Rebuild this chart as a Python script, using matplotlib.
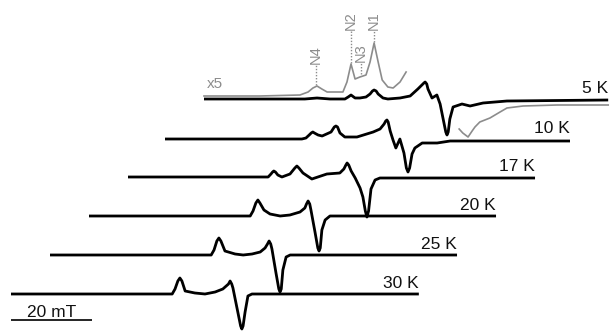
import matplotlib
matplotlib.use("Agg")
import matplotlib.pyplot as plt
import numpy as np

plt.rcParams['font.family'] = ['Liberation Sans', 'DejaVu Sans']

# ---------------- data (field in mT from sweep start, intensity in a.u.) ----------------
temps = [5, 10, 17, 20, 25, 30]

field_5K = [0, 24.9, 27.9, 31.1, 34.8, 35.6, 36.3, 37.3, 38.5, 40.0, 41.0, 41.6, 42.0, 42.5,
            43.0, 44.2, 45.4, 48.4, 50.9, 52.8, 53.8, 54.3, 54.6, 55.0, 55.3, 56.3, 57.5,
            58.3, 59.3, 59.7, 60.0, 60.3, 60.7, 61.5, 63.7, 65.7, 68.9, 74.8, 99.8]
sig_5K = [0, 0, 1, 0, 0, 2, 4, 1, 1, 2, 5, 8, 9, 8, 5, 1, 0, 1, 3, 10, 14, 16, 17, 15, 10,
          1, 4, -5, -25, -33, -36, -33, -20, -8, -5, -7, -4, -2, -1]

field_10K = [0, 33.8, 34.8, 35.6, 36.1, 36.5, 36.9, 37.8, 38.8, 41.0, 41.8, 42.2, 42.6,
             43.2, 44.4, 47.4, 51.4, 53.1, 54.1, 54.5, 54.8, 55.1, 55.6, 56.3, 57.0, 58.0,
             59.0, 59.6, 60.0, 60.4, 61.0, 61.7, 63.5, 67.2, 70.4, 75.3, 100.0]
sig_10K = [0, 0, 1, 4, 6, 7, 6, 4, 3, 7, 12, 13, 12, 6, 2, 2, 7, 10, 15, 18, 19, 17, 8, -1,
           -9, 0, -14, -29, -33, -29, -15, -9, -4, -4, -2, -2, -2]

field_17K = [0, 34.6, 35.3, 35.7, 36.0, 36.4, 37.0, 38.0, 40.0, 41.2, 41.7, 42.2, 43.2,
             45.4, 49.1, 52.3, 53.3, 53.8, 54.1, 54.5, 55.1, 56.1, 57.3, 58.0, 58.6, 59.0,
             59.4, 60.0, 61.0, 62.2, 100.5]
sig_17K = [0, 0, 3, 5, 6, 5, 2, 0, 3, 9, 11, 9, 4, -2, 3, 4, 8, 12, 14, 12, 6, -1, -11,
           -20, -34, -40, -34, -12, -3, -1, -1]

field_20K = [0, 39.8, 40.5, 41.2, 41.7, 42.2, 43.2, 44.7, 47.2, 49.6, 52.1, 53.3, 53.7,
             54.1, 54.5, 54.8, 55.8, 56.5, 56.8, 57.1, 57.5, 58.3, 59.5, 100.5]
sig_20K = [0, 0, 5, 13, 16, 13, 6, 2, 0, 1, 4, 8, 12, 15, 12, 6, -16, -32, -35, -32, -14,
           -4, 0, 0]

field_25K = [0, 39.8, 40.5, 41.2, 41.7, 42.2, 43.2, 45.7, 47.7, 49.9, 51.9, 53.1, 53.7,
             54.1, 54.5, 54.8, 55.8, 56.5, 56.8, 57.1, 57.5, 58.3, 59.3, 100.5]
sig_25K = [0, 0, 5, 14, 17, 14, 4, 1, 0, 1, 3, 7, 11, 14, 11, 6, -18, -34, -37, -34, -15,
           -2, 0, 0]

field_30K = [0, 39.8, 40.5, 41.2, 41.7, 42.2, 43.0, 45.4, 47.9, 50.4, 52.3, 53.7, 54.1,
             54.5, 54.8, 56.0, 56.7, 57.0, 57.3, 57.8, 58.5, 59.5, 100.7]
sig_30K = [0, 0, 5, 13, 16, 13, 3, 1, 0, 2, 5, 10, 13, 10, 6, -18, -32, -35, -32, -18, -2,
           0, 0]

# 5 K spectrum magnified x5 (two visible segments)
field_x5_a = [0, 13.8, 23.7, 25.7, 26.9, 27.9, 29.1, 30.4, 34.3, 35.3, 36.3, 37.3, 38.5,
              40.0, 41.0, 42.0, 43.0, 44.0, 45.4, 46.7, 48.4, 49.9]
sig_x5_a = [3, 3, 4, 7, 11, 13, 10, 7, 7, 17, 35, 20, 22, 24, 37, 56, 37, 19, 12, 11, 17, 27]
field_x5_b = [63.0, 63.9, 65.2, 66.2, 66.9, 68.1, 70.6, 73.1, 74.8, 78.8, 87.2, 99.8]
sig_x5_b = [-30, -34, -38, -32, -28, -23, -19, -13, -9, -7, -6, -6]

# nitrogen-line markers on the x5 trace
n_labels = ['N4', 'N2', 'N3', 'N1']
n_field = [27.7, 36.3, 38.8, 42.0]
n_peak = [13, 35, 24, 56]
n_top = [34, 68, 36, 68]

scale_bar_mT = 20

fields = [field_5K, field_10K, field_17K, field_20K, field_25K, field_30K]
signals = [sig_5K, sig_10K, sig_17K, sig_20K, sig_25K, sig_30K]

# ---------------- layout ----------------
PX_PER_MT = 4.05
W, H = 611, 331
x_start_px = [204, 165, 128, 89, 50, 11]
baseline_px = [99, 139, 177, 216, 255, 294]

fig = plt.figure(figsize=(W / 100, H / 100), dpi=100)
ax = fig.add_axes([0, 0, 1, 1])
ax.set_xlim(0, W / PX_PER_MT)
ax.set_ylim(-H, 0)
ax.axis('off')

grey = '#8c8c8c'

for t, f, s, xs, yb in zip(temps, fields, signals, x_start_px, baseline_px):
    x0 = xs / PX_PER_MT
    f = np.asarray(f, float)
    s = np.asarray(s, float)
    ax.plot(x0 + f, -yb + s, color='black', lw=2.0, solid_joinstyle='round',
            solid_capstyle='butt', zorder=3)
    ax.text(x0 + f[-1], -yb + 6, f'{t} K', ha='right', va='baseline',
            fontsize=12.5, color='#111111')

# x5 trace
x0 = x_start_px[0] / PX_PER_MT
yb = baseline_px[0]
ax.plot(x0 + np.asarray(field_x5_a), -yb + np.asarray(sig_x5_a), color=grey, lw=1.2,
        solid_joinstyle='round', zorder=2)
ax.plot(x0 + np.asarray(field_x5_b), -yb + np.asarray(sig_x5_b), color=grey, lw=1.2,
        solid_joinstyle='round', zorder=2)
ax.text(x0 + 0.7, -yb + 11, 'x5', ha='left', va='baseline', fontsize=11, color=grey)

for lab, nf, npk, ntop in zip(n_labels, n_field, n_peak, n_top):
    ax.plot([x0 + nf, x0 + nf], [-yb + npk + 1, -yb + ntop], color=grey, lw=1.0,
            linestyle=(0, (1, 1.2)), zorder=2)
    ax.text(x0 + nf, -yb + ntop + 1, lab, rotation=90, ha='center', va='bottom',
            fontsize=10.5, color=grey)

# scale bar
bx0 = 11 / PX_PER_MT
ax.plot([bx0, bx0 + scale_bar_mT], [-320, -320], color='black', lw=1.2,
        solid_capstyle='butt')
ax.text(bx0 + scale_bar_mT / 2, -317, f'{scale_bar_mT} mT', ha='center', va='baseline',
        fontsize=12.5, color='#111111')

fig.savefig('out.png', dpi=100)
